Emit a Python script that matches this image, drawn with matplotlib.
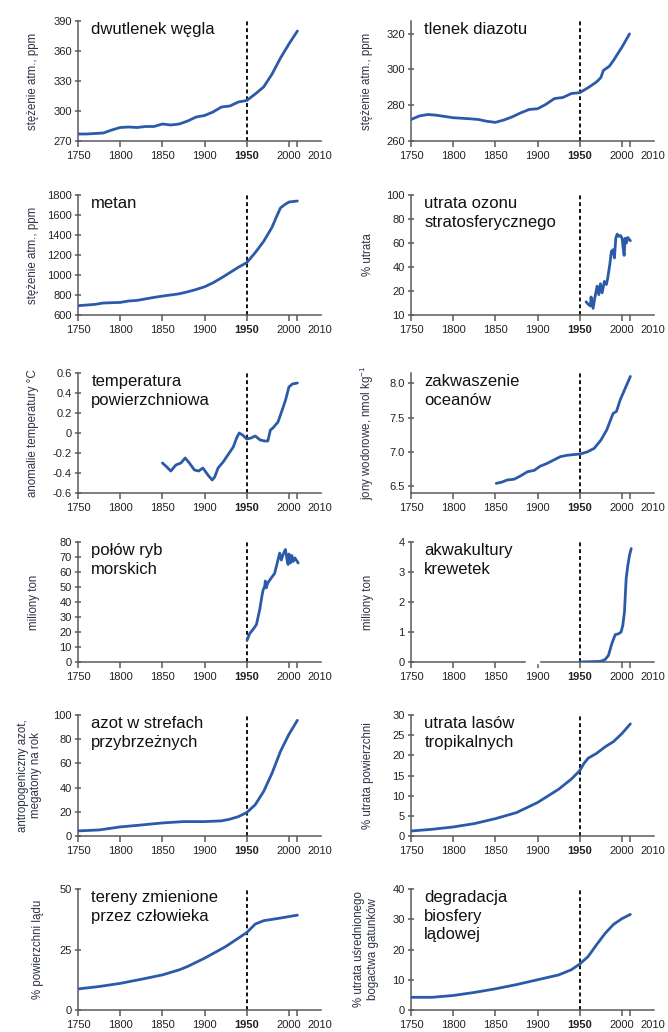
import matplotlib
matplotlib.use('Agg')
import matplotlib.pyplot as plt
import matplotlib.transforms as mtransforms

plt.rcParams['font.family'] = ['Liberation Sans', 'DejaVu Sans']
plt.rcParams['mathtext.fontset'] = 'custom'
plt.rcParams['mathtext.rm'] = 'Liberation Sans'

# ---------------- data ----------------
co2_years = [1750, 1760, 1770, 1780, 1790, 1800, 1810, 1820, 1830, 1840, 1850, 1860, 1870, 1880,
             1890, 1900, 1910, 1920, 1930, 1940, 1950, 1960, 1970, 1980, 1990, 2000, 2010]
co2_vals = [277, 277, 277.5, 278, 281, 283.5, 284, 283.5, 284.5, 284.5, 287, 286, 287, 290,
            294, 295.5, 299, 304, 305, 309, 310.5, 317, 324, 337, 353, 367, 380]

n2o_years = [1750, 1760, 1770, 1780, 1800, 1820, 1830, 1840, 1850, 1860, 1870, 1880, 1890, 1900,
             1910, 1920, 1930, 1940, 1950, 1960, 1970, 1975, 1978, 1985, 1990, 2000, 2009]
n2o_vals = [272, 274, 274.8, 274.4, 273, 272.4, 272, 271, 270.4, 271.7, 273.5, 275.7, 277.6, 278,
            280.5, 283.7, 284.3, 286.5, 287, 289.8, 293, 295.4, 299.4, 301.7, 305, 312.4, 319.8]

ch4_years = [1750, 1770, 1780, 1800, 1810, 1820, 1840, 1850, 1870, 1880, 1890, 1900, 1910, 1920,
             1930, 1940, 1950, 1960, 1970, 1980, 1985, 1990, 1995, 2000, 2010]
ch4_vals = [693, 706, 720, 726, 740, 746, 776, 789, 812, 832, 855, 882, 922, 971,
            1024, 1077, 1124, 1223, 1336, 1478, 1578, 1671, 1704, 1730, 1740]

oz_years = [1957.5, 1960, 1962.6, 1963.4, 1965.8, 1968, 1970.6, 1972.6, 1974.5, 1976.5, 1979.2,
            1981.6, 1983.2, 1985.6, 1987.5, 1989.5, 1991.1, 1992.7, 1994.3, 1996.2, 1998.2,
            2000.2, 2001.4, 2002.6, 2003.8, 2005.3, 2006.9, 2010]
oz_vals = [11, 9, 7.5, 15, 5.5, 15, 24, 17, 26, 18.5, 28, 25.4, 31, 42, 53, 54.4, 47.5, 64,
           67.4, 65.5, 66.3, 64, 55.8, 49.7, 64, 60, 64.6, 61.9]

temp_years = [1850, 1854, 1860, 1866, 1872, 1877, 1882, 1888, 1893, 1898, 1904, 1909, 1912, 1916,
              1922, 1930, 1934, 1938, 1941, 1945, 1950, 1955, 1960, 1966, 1971, 1975, 1978,
              1981, 1987, 1992, 1996, 2000, 2004, 2010]
temp_vals = [-0.30, -0.33, -0.38, -0.32, -0.30, -0.25, -0.30, -0.37, -0.38, -0.35, -0.42, -0.47,
             -0.44, -0.35, -0.29, -0.19, -0.14, -0.05, 0.0, -0.02, -0.06, -0.05, -0.03, -0.07,
             -0.08, -0.08, 0.03, 0.05, 0.11, 0.23, 0.33, 0.46, 0.49, 0.50]

ph_years = [1851, 1858, 1864, 1872, 1880, 1888, 1896, 1903, 1911, 1919, 1927, 1935, 1943, 1951,
            1959, 1967, 1975, 1982, 1989.5, 1993.5, 1998, 2004, 2010]
ph_vals = [6.54, 6.56, 6.59, 6.60, 6.65, 6.71, 6.73, 6.79, 6.83, 6.88, 6.93, 6.95, 6.96, 6.97,
           7.0, 7.05, 7.17, 7.32, 7.56, 7.59, 7.76, 7.93, 8.10]

fish_years = [1950.4, 1953.5, 1957.5, 1961.5, 1965.4, 1968, 1969.4, 1971.3, 1972, 1973, 1975,
              1979, 1983, 1987, 1989, 1991, 1993, 1995.8, 1997.8, 1999, 2000, 2001.8, 2003.4,
              2005, 2007, 2011]
fish_vals = [14.6, 19, 21.7, 25, 35, 44, 48, 50.5, 54, 49.4, 52.8, 56, 59, 68, 72.6, 68, 71.6,
             75, 68, 65, 72, 66, 71, 67, 69.4, 66]

shrimp_years = [1950, 1974.5, 1980, 1984, 1988, 1992, 1996, 1999, 2001, 2003, 2005, 2007, 2009, 2011]
shrimp_vals = [0, 0.02, 0.08, 0.22, 0.61, 0.91, 0.94, 1.0, 1.22, 1.67, 2.78, 3.22, 3.56, 3.78]

nit_years = [1750, 1775, 1800, 1825, 1850, 1875, 1900, 1920, 1930, 1940, 1950, 1960, 1970, 1980,
             1990, 2000, 2010]
nit_vals = [4.2, 5, 7.5, 9.1, 10.8, 11.9, 11.9, 12.5, 13.9, 16, 19.4, 25.8, 36.8, 52, 70, 84, 95.6]

forest_years = [1750, 1775, 1800, 1825, 1850, 1875, 1900, 1925, 1940, 1950, 1955, 1960, 1970,
                1980, 1990, 2000, 2010]
forest_vals = [1.24, 1.66, 2.24, 3.07, 4.3, 5.8, 8.3, 11.6, 14.1, 16.2, 18, 19.3, 20.5, 22.1,
               23.4, 25.4, 27.8]

land_years = [1750, 1775, 1800, 1825, 1850, 1870, 1880, 1900, 1925, 1950, 1960, 1970, 1990, 2010]
land_vals = [8.7, 9.7, 11, 12.7, 14.5, 16.6, 18, 21.4, 26.2, 32, 35.5, 36.9, 38, 39.2]

bio_years = [1750, 1775, 1800, 1825, 1850, 1875, 1900, 1925, 1940, 1950, 1960, 1970, 1980,
             1990, 2000, 2010]
bio_vals = [4.2, 4.2, 4.8, 5.8, 7, 8.4, 10, 11.6, 13.3, 15.2, 17.7, 21.6, 25.3, 28.3, 30.2, 31.6]

x_ticks = [1750, 1800, 1850, 1900, 1950, 2000, 2010]
x_labels = ['1750', '1800', '1850', '1900', '1950', '2000', '2010']

titles = ['dwutlenek węgla', 'tlenek diazotu', 'metan', 'utrata ozonu\nstratosferycznego',
          'temperatura\npowierzchniowa', 'zakwaszenie\noceanów', 'połów ryb\nmorskich',
          'akwakultury\nkrewetek', 'azot w strefach\nprzybrzeżnych', 'utrata lasów\ntropikalnych',
          'tereny zmienione\nprzez człowieka', 'degradacja\nbiosfery\nlądowej']
ylabels = ['stężenie atm., ppm', 'stężenie atm., ppm', 'stężenie atm., ppm', '% utrata',
           'anomalie temperatury °C', 'jony wodorowe, nmol kg$^{-1}$', 'miliony ton',
           'miliony ton', 'antropogeniczny azot,\nmegatony na rok', '% utrata powierzchni',
           '% powierzchni lądu', '% utrata uśrednionego\nbogactwa gatunków']
y_ticks = [[270, 300, 330, 360, 390], [260, 280, 300, 320],
           [600, 800, 1000, 1200, 1400, 1600, 1800], [0, 20, 40, 60, 80, 100],
           [-0.6, -0.4, -0.2, 0, 0.2, 0.4, 0.6], [6.5, 7.0, 7.5, 8.0],
           [0, 10, 20, 30, 40, 50, 60, 70, 80], [0, 1, 2, 3, 4],
           [0, 20, 40, 60, 80, 100], [0, 5, 10, 15, 20, 25, 30], [0, 25, 50],
           [0, 10, 20, 30, 40]]
y_ticklabels = [None, None, None, ['10', '20', '40', '60', '80', '100'],
                ['-0.6', '-0.4', '-0.2', '0', '0.2', '0.4', '0.6'], ['6.5', '7.0', '7.5', '8.0'],
                None, None, None, None, None, None]
y_lims = [(270, 390), (260, 327), (600, 1800), (0, 100), (-0.6, 0.6), (6.4, 8.15), (0, 80),
          (0, 4), (0, 100), (0, 30), (0, 50), (0, 40)]
series = [(co2_years, co2_vals), (n2o_years, n2o_vals), (ch4_years, ch4_vals),
          (oz_years, oz_vals), (temp_years, temp_vals), (ph_years, ph_vals),
          (fish_years, fish_vals), (shrimp_years, shrimp_vals), (nit_years, nit_vals),
          (forest_years, forest_vals), (land_years, land_vals), (bio_years, bio_vals)]

# ---------------- layout ----------------
W, H = 668, 1032
fig = plt.figure(figsize=(W / 100, H / 100), dpi=100)
col_x = [78, 411]
col_w = 243
rows = [(21, 141), (195, 315), (373, 493), (542, 662), (715, 836), (889, 1010)]
label_x = [-0.185, -0.18, -0.185, -0.175, -0.185, -0.18, -0.18, -0.175, -0.2, -0.175,
           -0.165, -0.185]

LINE = '#2b5ba8'
SPINE = '#5a5a5a'
TXT = '#222222'
LAB = '#2c3347'

for i in range(12):
    r, c = divmod(i, 2)
    top, bot = rows[r]
    ax = fig.add_axes([col_x[c] / W, 1 - bot / H, col_w / W, (bot - top) / H])
    xs, ys = series[i]
    ax.plot(xs, ys, color=LINE, lw=2.0, solid_capstyle='round', solid_joinstyle='round',
            zorder=3)
    ax.axvline(1950, color='#111111', lw=1.4, ls=(0, (2.0, 1.5)), zorder=2)
    ax.set_xlim(1750, 2038)
    ax.set_ylim(*y_lims[i])
    for s in ['top', 'right']:
        ax.spines[s].set_visible(False)
    for s in ['left', 'bottom']:
        ax.spines[s].set_color(SPINE)
        ax.spines[s].set_linewidth(1.1)
    ax.set_xticks(x_ticks)
    ax.set_xticklabels(x_labels)
    ax.set_yticks(y_ticks[i])
    if y_ticklabels[i] is not None:
        ax.set_yticklabels(y_ticklabels[i])
    ax.tick_params(axis='x', direction='out', length=4, width=1.1, color=SPINE,
                   labelsize=8, labelcolor=TXT, pad=3)
    ax.tick_params(axis='y', direction='inout', length=5, width=1.1, color=SPINE,
                   labelsize=8, labelcolor=TXT, pad=2)
    tls = ax.get_xticklabels()
    tls[4].set_fontweight('bold')
    off = mtransforms.ScaledTranslation(0.22, 0, fig.dpi_scale_trans)
    tls[6].set_transform(tls[6].get_transform() + off)
    ax.set_ylabel(ylabels[i], fontsize=8.3, color=LAB, va='center', linespacing=1.15)
    ax.yaxis.set_label_coords(label_x[i], 0.5)
    ax.text(0.055, 0.99, titles[i], transform=ax.transAxes, ha='left', va='top',
            fontsize=12, color='#111111', linespacing=1.3)
    if i == 7:
        ax.plot([1887, 1900], [0, 0], color='white', lw=2.5, clip_on=False, zorder=5)

fig.savefig('out.png', dpi=100)
